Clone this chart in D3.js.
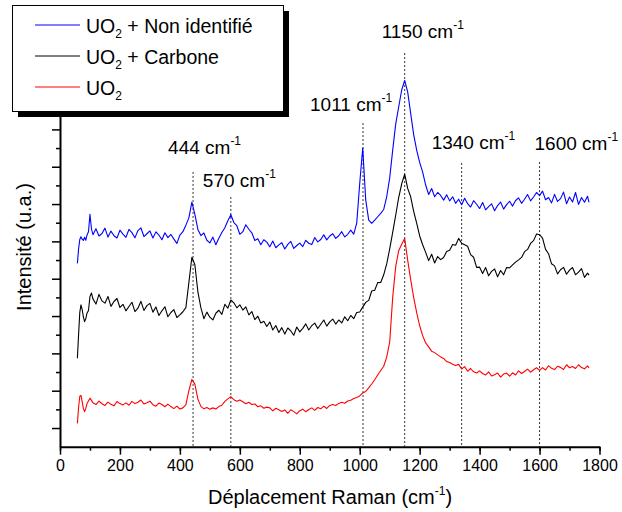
<!DOCTYPE html>
<html><head><meta charset="utf-8">
<script src="https://cdn.jsdelivr.net/npm/d3@7/dist/d3.min.js"></script>
<style>
html,body{margin:0;padding:0;background:#fff;}
svg{display:block;font-family:"Liberation Sans",Arial,Helvetica,sans-serif;}
</style></head>
<body>
<svg id="chart" width="622" height="512"></svg>
<script>
// Raman shift (cm-1)
const shift = [58,62,66,70,74,78,82,86,90,95,100,105,
110,120,130,140,150,160,170,180,190,200,
210,220,230,240,250,260,270,280,290,300,
310,320,330,340,350,360,370,380,390,400,
410,420,430,440,450,460,470,480,490,500,
510,520,530,540,550,560,570,580,590,600,
610,620,630,640,650,660,670,680,690,700,
710,720,730,740,750,760,770,780,790,800,
810,820,830,840,850,860,870,880,890,900,
910,920,930,940,950,960,970,980,990,1000,
1010,1020,1030,1040,1050,1060,1070,1080,1090,1100,
1110,1120,1130,1140,1150,1160,1170,1180,1190,1200,
1210,1220,1230,1240,1250,1260,1270,1280,1290,1300,
1310,1320,1330,1340,1350,1360,1370,1380,1390,1400,
1410,1420,1430,1440,1450,1460,1470,1480,1490,1500,
1510,1520,1530,1540,1550,1560,1570,1580,1590,1600,
1610,1620,1630,1640,1650,1660,1670,1680,1690,1700,
1710,1720,1730,1740,1750,1760,1765];

// Intensity (u.a.), stacked spectra
const uo2NonIdentifie = [98.2,106,111,112.5,111.2,110.5,112.2,110.6,113.3,115.2,124.5,116.6,
113.6,116.8,112.9,114.2,117.1,112.3,115.5,113.0,111.8,116.0,
113.9,112.2,116.4,114.7,111.9,115.8,117.2,112.6,114.1,115.6,
111.8,115.1,113.4,110.9,114.6,112.0,113.7,111.2,108.9,113.4,
115.2,118.7,122.6,131,124.5,116.4,113.1,114.5,110.6,109.2,
112.3,108.2,111.7,114.8,117.3,121.1,124.3,120.1,118.4,113.8,
115.2,118.9,116.5,114.6,110.5,111.4,108.2,110.9,109.6,107.1,
110.2,106.6,108.1,109.3,105.9,108.4,110.0,106.2,107.8,109.1,
107.2,110.6,109.0,108.3,112.1,109.7,111.0,113.5,110.8,112.9,
114.1,111.6,113.0,115.2,112.4,113.8,116.0,113.9,119.8,141,
160,132.2,121.4,119.7,121.4,123.2,125,127.1,133.9,144,
158.9,172.8,182,191.1,196.2,190.1,178.6,167.2,158.9,152.3,
147.1,140.2,135.1,138.3,133.9,136.2,134.6,132.1,135.0,131.7,
133.9,130.4,132.6,129.6,133.1,130.2,128.4,131.8,129.9,127.6,
130.8,126.9,128.6,130.1,126.4,129.2,131.1,127.3,129.7,131.5,
128.9,131.9,133.3,130.4,132.6,135.1,131.7,133.8,136.2,134.5,
136.9,132.3,133.5,130.6,135.2,131.4,132.9,136.4,130.2,133.8,
131.1,136.2,129.8,133.5,131.0,134.2,130.9];

const uo2Carbone = [47.4,60,72,76,73.5,69.5,67,68.5,71.5,73,80.5,82.3,
79.2,76.4,81.6,78.1,76.9,80.5,75.2,77.8,79.4,74.6,
76.3,72.8,75.1,77.4,72.4,74.2,77.9,73.0,75.6,76.8,
72.1,74.9,70.3,72.8,75.0,69.6,71.9,73.4,69.2,70.6,
72.3,74.5,88,101.5,97.5,83,74.5,68.6,72.1,69.4,
67.9,71.5,73.1,70.9,76.3,74.2,78.6,77.1,74.4,76.0,
73.2,74.9,70.6,72.4,68.1,69.9,66.3,67.2,64.4,66.8,
62.5,64.9,61.2,63.8,60.4,63.6,62.0,59.7,64.1,61.5,
63.4,65.8,62.5,64.9,66.2,63.3,65.6,67.9,64.6,66.9,
68.4,65.7,67.9,66.3,69.6,67.5,70.3,68.6,71.9,72.2,
74.8,77.3,78.4,83.4,83.8,87.9,88.0,92.1,97.9,106,
114.8,124,133.5,140.8,146,138.4,133.9,126.1,119.8,112.9,
108.2,104.1,99.7,103.1,98.4,101.9,100.2,101.4,104.6,105.2,
108.3,107.9,111.6,109.0,108.2,107.4,102.9,101.5,96.1,96.2,
92.8,96.0,91.6,93.9,95.2,91.0,94.4,92.1,96.0,95.8,
97.4,98.9,100.1,101.4,104.5,105.7,108.9,110.4,114.0,113.6,
111.8,105.7,103.4,98.0,96.9,92.6,94.8,96.1,92.4,94.6,
96.0,92.1,93.5,95.4,90.7,93.0,91.9];

const uo2 = [12.5,21,27,27.5,24,20.5,18.8,20.5,23,24.5,26,24.8,
23.5,22.6,24.4,23.0,22.1,23.9,22.7,21.9,24.2,23.1,
22.4,23.5,22.2,24.3,23.1,23.8,25.0,22.9,23.6,24.4,
22.5,21.7,23.4,22.6,21.4,22.8,21.5,20.4,21.7,20.2,
20.8,22.5,30,36,33.5,25.5,21.6,20.3,21,20.1,
20.8,20.2,21.5,22.2,24.3,25.6,26.8,25.2,24.4,25,
24.1,23.0,23.8,22.6,22.9,21.4,21.9,20.6,21.2,20.8,
19.2,20.6,19.8,18.9,19.7,17.9,19.8,18.8,17.6,19.3,
20.1,18.7,19.9,20.8,19.5,21.0,20.3,21.7,20.5,22.1,
22.6,22.1,23.2,23.8,23.3,24.5,24.9,25.8,26.4,27.2,
28.8,29.6,31.5,33.6,35.9,38.4,40.8,43.1,48,56,
80,96.5,105,108.5,111.5,100,89.5,80,71.8,64.8,
59.5,55.6,53.5,51.2,50.4,49.2,48.1,47.3,45.6,45.1,
44.2,43.5,44.1,41.6,42.9,40.4,41.9,40.1,39.5,40.6,
39.2,38.4,40.1,37.9,38.6,39.5,37.3,38.9,39.4,37.8,
39.6,38.4,40.6,39.2,40.3,41.6,39.9,41.2,42.3,40.9,
42.4,41.1,43.4,42.0,41.3,43.1,42.5,41.4,43.9,42.3,
43.0,41.9,43.9,42.4,41.7,43.3,42.2];

const seriesNames = ["UO2 + Non identifié", "UO2 + Carbone", "UO2"];
const peaks = [444, 570, 1011, 1150, 1340, 1600];
const xTicks = [0, 200, 400, 600, 800, 1000, 1200, 1400, 1600, 1800];

// ---- layout ----
const svg = d3.select("#chart");
const x = d3.scaleLinear().domain([0, 1800]).range([60, 599.5]);
const y = d3.scaleLinear().domain([0, 200]).range([446.7, 73.4]);

const series = [
  {name: seriesNames[0], values: uo2NonIdentifie, color: "#0000ff"},
  {name: seriesNames[1], values: uo2Carbone, color: "#000000"},
  {name: seriesNames[2], values: uo2, color: "#ff0000"}
];

// peak label layout: [label dx from line, label baseline y(px), line top (data units)]
const peakLayout = [
  {dx: -25, by: 154, top: 147.2},
  {dx: -28, by: 187, top: 133.8},
  {dx: -53, by: 111, top: 173.4},
  {dx: -23, by: 38, top: 210.9},
  {dx: -30, by: 149, top: 152},
  {dx: -5, by: 150, top: 152.5}
];

// dotted peak lines
svg.append("g").selectAll("line").data(peaks).join("line")
  .attr("x1", d => x(d)).attr("x2", d => x(d))
  .attr("y1", (d, i) => y(peakLayout[i].top)).attr("y2", y(0))
  .attr("stroke", "#333").attr("stroke-width", 1)
  .attr("stroke-dasharray", "2,2");

// spectra (draw red, black, then blue)
const line = d3.line().x((d, i) => x(shift[i])).y(d => y(d));
svg.append("g").selectAll("path").data(series.slice().reverse()).join("path")
  .attr("d", d => line(d.values))
  .attr("fill", "none").attr("stroke", d => d.color).attr("stroke-width", 1.1)
  .attr("stroke-linejoin", "round");

// axes
const xMinor = d3.range(0, 1801, 100);
const gx = svg.append("g").attr("transform", `translate(0,${y(0)})`);
gx.call(d3.axisBottom(x).tickValues(xMinor).tickSize(4).tickSizeOuter(0).tickFormat(""));
gx.call(g => g.select(".domain").remove());
const gx2 = svg.append("g").attr("transform", `translate(0,${y(0)})`)
  .call(d3.axisBottom(x).tickValues(xTicks).tickSize(8).tickSizeOuter(0).tickPadding(5).tickFormat(d3.format("d")));

const yMajor = d3.range(10, 200, 20);
const yMinor = d3.range(20, 201, 20);
const gy = svg.append("g").attr("transform", `translate(${x(0)},0)`);
gy.call(d3.axisLeft(y).tickValues(yMinor).tickSize(4).tickSizeOuter(0).tickFormat(""));
gy.call(g => g.select(".domain").remove());
const gy2 = svg.append("g").attr("transform", `translate(${x(0)},0)`)
  .call(d3.axisLeft(y).tickValues(yMajor).tickSize(8).tickSizeOuter(0).tickFormat(""));
svg.selectAll(".tick line").attr("stroke", "#000").attr("stroke-width", 1.5);
svg.selectAll(".domain").attr("stroke", "#000").attr("stroke-width", 2);
gx2.selectAll("text").attr("font-size", 16).attr("fill", "#000")
  .attr("font-family", '"Liberation Sans",Arial,sans-serif');

// axis titles
const xt = svg.append("text").attr("x", 330).attr("y", 504).attr("text-anchor", "middle")
  .attr("font-size", 20).attr("fill", "#000");
xt.append("tspan").text("Déplacement Raman (cm");
xt.append("tspan").attr("font-size", 12).attr("dy", -9).text("-1");
xt.append("tspan").attr("dy", 9).text(")");

svg.append("text").attr("transform", "translate(31,247) rotate(-90)")
  .attr("text-anchor", "middle").attr("font-size", 20).attr("fill", "#000")
  .text("Intensité (u.a.)");

// peak labels
peaks.forEach((p, i) => {
  const t = svg.append("text").attr("x", x(p) + peakLayout[i].dx).attr("y", peakLayout[i].by)
    .attr("font-size", 19).attr("fill", "#000");
  t.append("tspan").text(p + " cm");
  t.append("tspan").attr("font-size", 12).attr("dy", -9).text("-1");
});

// legend
const lg = svg.append("g");
lg.append("rect").attr("x", 18).attr("y", 11).attr("width", 271).attr("height", 106).attr("fill", "#000");
lg.append("rect").attr("x", 12.5).attr("y", 5.5).attr("width", 271).attr("height", 106)
  .attr("fill", "#fff").attr("stroke", "#000").attr("stroke-width", 1);
const rest = [" + Non identifié", " + Carbone", ""];
series.forEach((s, i) => {
  const ly = 25 + i * 31;
  lg.append("line").attr("x1", 35).attr("x2", 80).attr("y1", ly).attr("y2", ly)
    .attr("stroke", s.color).attr("stroke-width", 1);
  const t = lg.append("text").attr("x", 86).attr("y", ly + 8).attr("font-size", 19.5).attr("fill", "#000");
  t.append("tspan").text("UO");
  t.append("tspan").attr("font-size", 12).attr("dy", 5).text("2");
  if (rest[i]) t.append("tspan").attr("dy", -5).text(rest[i]);
});
</script>
</body></html>
